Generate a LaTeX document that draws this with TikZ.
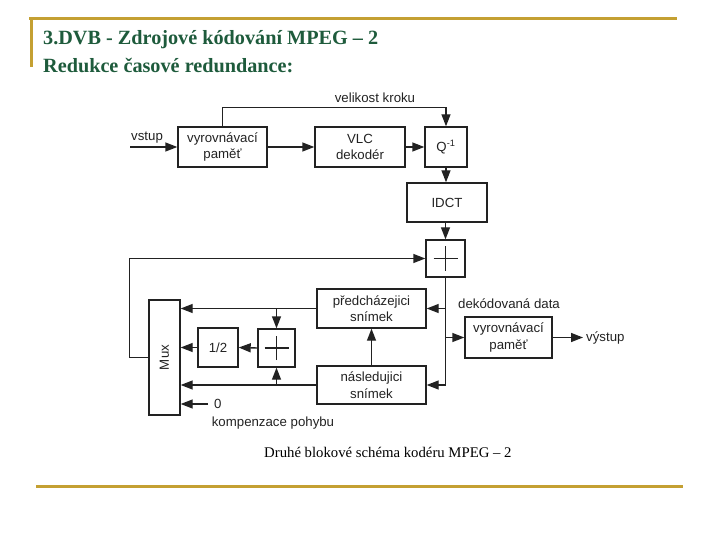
\documentclass[tikz,border=0pt]{standalone}
\usepackage{fontspec}
\setmainfont{Liberation Serif}
\newfontfamily\diagfont{Liberation Sans}
\usetikzlibrary{arrows.meta}
\definecolor{gold}{HTML}{C4A032}
\definecolor{titlegreen}{HTML}{1E5B3C}
\definecolor{ink}{HTML}{222222}
\begin{document}
\begin{tikzpicture}[x=1bp,y=-1bp,
  blk/.style={draw=ink, line width=1.4bp, inner sep=0pt, align=center,
    font=\diagfont\fontsize{13.3}{16.5}\selectfont, text=ink},
  lbl/.style={inner sep=0pt, font=\diagfont\fontsize{13.3}{16.5}\selectfont, text=ink},
  arr/.style={draw=ink, line width=1.4bp, -{Triangle[length=12bp,width=9bp]}},
  ln/.style={draw=ink, line width=1.4bp},
  goldline/.style={draw=gold, line width=3bp},
  ttl/.style={inner sep=0pt, anchor=base west, text=titlegreen,
    font=\bfseries\fontsize{20.3}{24}\selectfont},
  plus/.style={draw=ink, line width=1.1bp}
]
\useasboundingbox (0,0) rectangle (720,540);
% frame lines
\coordinate (g1) at (29,18.5);
\coordinate (g2) at (677,18.5);
\coordinate (g3) at (31,67);
\coordinate (g4) at (36,486);
\coordinate (g5) at (683,486);
\draw[goldline] (g1) -- (g2);
\draw[goldline] (g1 -| g3) -- (g3);
\draw[goldline] (g4) -- (g5);
% titles
\node[ttl] (t1) at (43,45) {3.DVB - Zdrojové kódování MPEG – 2};
\node[ttl] (t2) at (43,73) {Redukce časové redundance:};
\node[inner sep=0pt, anchor=base west, font=\fontsize{14.8}{17}\selectfont] (cap) at (264,457) {Druhé blokové schéma kodéru MPEG – 2};
% blocks
\node[blk, minimum width=89bp, minimum height=40bp] (buf1) at (222.5,147) {vyrovnávací\\paměť};
\node[blk, minimum width=90bp, minimum height=40bp] (vlc) at (360,147) {VLC\\dekodér};
\node[blk, minimum width=42bp, minimum height=40bp] (q) at (446,147) {Q\textsuperscript{-1}};
\node[blk, minimum width=80bp, minimum height=39bp] (idct) at (447,202.5) {IDCT};
\node[blk, minimum width=39bp, minimum height=37bp] (add1) at (445.5,258.5) {};
\node[blk, minimum width=109bp, minimum height=39bp] (prev) at (371.5,308.5) {předcházejici\\snímek};
\node[blk, minimum width=109bp, minimum height=38bp] (next) at (371.5,385) {následujici\\snímek};
\node[blk, minimum width=87bp, minimum height=41bp] (buf2) at (508.5,337.5) {vyrovnávací\\paměť};
\node[blk, minimum width=31bp, minimum height=115bp] (mux) at (164.5,357.5) {};
\node[lbl, rotate=90] (muxt) at (mux.center) {Mux};
\node[blk, minimum width=37bp, minimum height=38bp] (add2) at (276.5,348) {};
\node[blk, minimum width=40bp, minimum height=39bp] (half) at (218,347.5) {1/2};
% plus signs
\draw[plus] ([xshift=-12bp]add1.center) -- ([xshift=12bp]add1.center);
\draw[plus] ([yshift=-12bp]add1.center) -- ([yshift=12bp]add1.center);
\draw[plus] ([xshift=-12bp]add2.center) -- ([xshift=12bp]add2.center);
\draw[plus] ([yshift=-12bp]add2.center) -- ([yshift=12bp]add2.center);
% labels
\node[lbl, anchor=south west] (vstup) at (131,143) {vstup};
\node[lbl] (krok) at (375,98) {velikost kroku};
\node[lbl] (dek) at (509,304) {dekódovaná data};
\node[lbl, anchor=west] (vystup) at (586,337.5) {výstup};
\node[lbl, anchor=west] (zero) at (214,404) {0};
\node[lbl] (komp) at (273,423) {kompenzace pohybu};
% connectors
\coordinate (vin) at (130,147);
\draw[arr] (vin) -- (buf1.west);
\draw[arr] (buf1) -- (vlc);
\draw[arr] (vlc) -- (q);
\draw[arr] (buf1.north) -- ++(0,-19) -| (q.north);
\draw[arr] (q.south) -- (q.south |- idct.north);
\draw[arr] (add1.north |- idct.south) -- (add1.north);
\draw[arr] (mux.west) -- ++(-19,0) |- (add1.west);
\coordinate (j3) at (add1.south |- next.east);
\draw[ln] (add1.south) -- (j3);
\draw[arr] (j3) -- (next.east);
\draw[arr] (add1.south |- prev.east) -- (prev.east);
\draw[arr] (add1.south |- buf2.west) -- (buf2.west);
\coordinate (vout) at (583,337.5);
\draw[arr] (buf2.east) -- (vout);
\draw[arr] (next.north) -- (prev.south);
\draw[arr] (prev.west) -- (prev.west -| mux.east);
\draw[arr] (add2.north |- prev.west) -- (add2.north);
\draw[arr] (next.west) -- (next.west -| mux.east);
\draw[arr] (add2.south |- next.west) -- (add2.south);
\draw[arr] (add2.west) -- (half.east);
\draw[arr] (half.west) -- (half.west -| mux.east);
\coordinate (zs) at (208,404);
\draw[arr] (zs) -- (zs -| mux.east);
\end{tikzpicture}
\end{document}
